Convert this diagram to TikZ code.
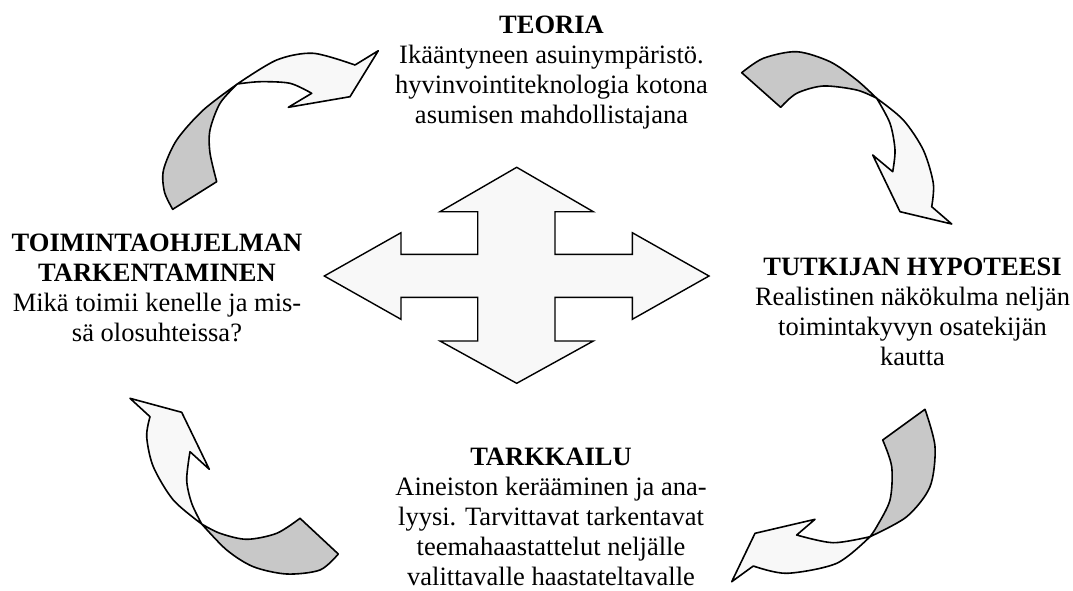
\documentclass[tikz,border=0pt]{standalone}
\usepackage{fontspec}
\setmainfont{Liberation Serif}
\definecolor{bandgray}{RGB}{200,200,200}
\definecolor{bandwhite}{RGB}{248,248,248}
\begin{document}
\begin{tikzpicture}[x=1pt,y=-1pt,
  band/.style={draw=black,line width=1.6pt,line join=round},
  backside/.style={band,fill=bandgray},
  frontside/.style={band,fill=bandwhite},
  crossshape/.style={draw=black,line width=1.4pt,line join=miter,fill=bandwhite},
  blocktext/.style={font=\fontsize{26.5}{30}\selectfont,align=center,anchor=north,inner sep=0pt}]
\useasboundingbox (0,0) rectangle (1073,590);

% four-way arrow in the middle
\draw[crossshape] (516.7,167.3) -- (593.3,211.7) -- (555,211.7) -- (555,254.3)
  -- (632.3,254.3) -- (632.3,232.7) -- (709,276) -- (632.3,319.3) -- (632.3,297.3)
  -- (555,297.3) -- (555,341) -- (593.3,341) -- (516.7,383.3) -- (440,341)
  -- (477.7,341) -- (477.7,297.3) -- (401,297.3) -- (401,319.3) -- (324.3,276)
  -- (401,232.7) -- (401,254.3) -- (477.7,254.3) -- (477.7,211.7) -- (440,211.7) -- cycle;

% curved arrow, upper left (towards the theory block)
\draw[backside] (172.7,209.3) -- (216.7,181.7)
  -- plot[smooth] coordinates {(216.7,181.7) (210,153) (210,130) (220,103.3) (237.3,84)}
  -- plot[smooth] coordinates {(237.3,84) (203.3,110) (176.7,140) (163.5,170) (164.5,192) (172.7,209.3)}
  -- cycle;
\draw[frontside] (237.3,84)
  -- plot[smooth] coordinates {(237.3,84) (276.7,60) (313.3,53.3) (355,65)}
  -- (378.3,50.7) -- (350,96.7) -- (288.3,107.3) -- (311.7,93.3)
  -- plot[smooth] coordinates {(311.7,93.3) (290,83.3) (260,81.7) (237.3,84)}
  -- cycle;

% curved arrow, upper right
\draw[backside] (741.7,72.7)
  -- plot[smooth] coordinates {(741.7,72.7) (763.3,58.3) (796.7,51.7) (830,61.7) (856.7,80) (876.7,98.3)}
  -- plot[smooth] coordinates {(876.7,98.3) (856.7,90) (823.3,86) (796.7,93.3) (780.7,107.3)}
  -- cycle;
\draw[frontside] (876.7,98.3)
  -- plot[smooth] coordinates {(876.7,98.3) (903.3,120) (923.3,150) (933.3,183.3) (931.7,206.7)}
  -- (951.7,224) -- (900,211.7) -- (872.7,155) -- (892.7,171.7)
  -- plot[smooth] coordinates {(892.7,171.7) (895,150) (890,123.3) (876.7,98.3)}
  -- cycle;

% curved arrow, lower right
\draw[backside] (925,409.3)
  -- plot[smooth] coordinates {(925,409.3) (935,446.7) (930,486.7) (906.7,516.7) (870,536.7)}
  -- plot[smooth] coordinates {(870,536.7) (876.7,526.7) (890,500) (891.7,466.7) (882.7,440)}
  -- cycle;
\draw[frontside] (870,536.7)
  -- plot[smooth] coordinates {(870,536.7) (836.7,563.3) (786.7,573.3) (753.3,566)}
  -- (731.7,581.7) -- (755,533.3) -- (815,519.3) -- (796.7,535)
  -- plot[smooth] coordinates {(796.7,535) (833,542.7) (870,536.7)}
  -- cycle;

% curved arrow, lower left
\draw[backside] (300,518.3)
  -- plot[smooth] coordinates {(300,518.3) (276.7,533.3) (246.7,539.3) (220,533.3) (201.7,524)}
  -- plot[smooth] coordinates {(201.7,524) (226.7,550) (253.3,566.7) (286.7,574) (320,570) (338.3,554)}
  -- cycle;
\draw[frontside] (201.7,524)
  -- plot[smooth] coordinates {(201.7,524) (173.3,500) (153.3,466.7) (146.7,436.7) (150,416.7)}
  -- (130,398.3) -- (181.7,412.3) -- (209.3,469.3) -- (190,451.7)
  -- plot[smooth] coordinates {(190,451.7) (186.7,480) (191.7,503.3) (201.7,524)}
  -- cycle;

% the four text blocks
\node[blocktext] (teoria) at (551.5,15.8) {\textbf{TEORIA}\\Ikääntyneen asuinympäristö.\\hyvinvointiteknologia kotona\\asumisen mahdollistajana};
\node[blocktext] (toiminta) at (157,234.2) {\textbf{TOIMINTAOHJELMAN}\\\textbf{TARKENTAMINEN}\\Mikä toimii kenelle ja mis-\\sä olosuhteissa?};
\node[blocktext] (hypoteesi) at (912.5,257.5) {\textbf{TUTKIJAN HYPOTEESI}\\Realistinen näkökulma neljän\\toimintakyvyn osatekijän\\kautta};
\node[blocktext] (tarkkailu) at (551,447.5) {\textbf{TARKKAILU}\\Aineiston kerääminen ja ana-\\lyysi. Tarvittavat tarkentavat\\teemahaastattelut neljälle\\valittavalle haastateltavalle};
\end{tikzpicture}
\end{document}
